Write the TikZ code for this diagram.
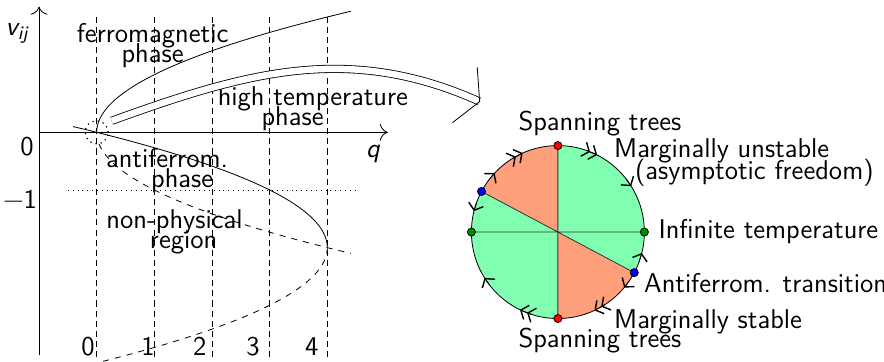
\documentclass[tikz,border=0pt]{standalone}
\usepackage{tikz}
\usetikzlibrary{arrows.meta}
\definecolor{Salmon}{RGB}{255,160,125}
\definecolor{Mint}{RGB}{128,255,176}
\definecolor{DotGreen}{RGB}{0,140,0}
\tikzset{
  every node/.style={font=\sffamily\fontsize{13.4}{9.9}\selectfont},
  lbl/.style={anchor=west, inner sep=0pt},
  tick/.style={dash pattern=on 3pt off 2pt},
  axis/.style={-{Computer Modern Rightarrow[scale=1.6]}},
  fixdot/.style={circle, draw=black, inner sep=0pt, minimum size=1.4mm},
  flow/.style={-{Straight Barb[length=3pt, width=7.5pt, line width=0.7pt]}},
  flowtwo/.style={-{Straight Barb[length=3pt, width=7.5pt, line width=0.7pt]Straight Barb[length=3pt, width=7.5pt, line width=0.7pt]}},
}

\begin{document}
\lineskiplimit=-20pt\relax
\begin{tikzpicture}
\useasboundingbox (-1.677,-3.967) rectangle (13.657,2.295);

% Phase diagram
\draw[axis] (-1,-3.87) -- (-1,2.18);
\draw[axis] (-1,0) -- (5.05,0);
\node (vij) at (-1.38,1.72) {\itshape v\textsubscript{ij}};
\node (qlab) at (4.79,-0.38) {\itshape q};
\node (zero) at (-1.21,-0.24) {0};
\node (mone) at (-1.33,-1.16) {−1};
\foreach \q/\x in {0/-0.15,1/0.89,2/1.79,3/2.71,4/3.73} {
    \draw[tick] (\q,-3.9) -- (\q,2.07);
    \node (n\q) at (\x,-3.72) {\q};
}
\draw[dotted] (-0.5,-1) -- (4.5,-1);

% Critical curves
\draw[domain=0:2.1, samples=60, variable=\t] plot ({\t*\t},\t);
\draw[domain=0:2.1, samples=60, variable=\t] plot ({4-\t*\t},{\t-2});
\draw[dashed, domain=0:1.975, samples=60, variable=\t] plot ({4-\t*\t},{-\t-2});
\draw[dashed, domain=0.2:2.1, samples=60, variable=\t] plot ({\t*\t},-\t);

\node[align=center] (ferro) at (0.97,1.51) {ferromagnetic\\phase};
\node[align=center] (hight) at (3.75,0.41) {high temperature\\phase\hspace*{20pt}};
\node[align=center] (antif) at (1.22,-0.67) {antiferrom.\\\hspace*{15pt}phase};
\node[align=center] (nonph) at (1.35,-1.73) {non-physical\\\hspace*{9pt}region};

\node[circle, draw, dotted, semithick, minimum size=4mm, inner sep=0pt] (fixpt) at (0,0) {};

% Zoom arrow
\coordinate (arrowstart) at (0.26,0.2);
\coordinate (arrowend) at (6.65,0.53);
\draw[double, double distance=3.2pt, -{Straight Barb[length=8pt,width=30pt]}] (arrowstart) .. controls (2.61,1.05) and (4.37,1.55) .. (arrowend);

% Flow on the circle
\begin{scope}[shift={(8,-1.73)}]
    \fill[Mint] (0,0) -- (152:1.5) arc (152:270:1.5) -- cycle;
    \fill[Mint] (0,0) -- (-28:1.5) arc (-28:90:1.5) -- cycle;
    \fill[Salmon] (0,0) -- (90:1.5) arc (90:152:1.5) -- cycle;
    \fill[Salmon] (0,0) -- (270:1.5) arc (270:332:1.5) -- cycle;
    \draw[black!80] (90:1.5) -- (270:1.5) (0:1.5) -- (180:1.5) (152:1.5) -- (332:1.5);
    \draw (0,0) circle (1.5);
    \foreach \a in {137,212,32,320} \draw[flow] (\a+6:1.5) -- (\a:1.5);
    \foreach \a in {166,346} \draw[flow] (\a-6:1.5) -- (\a:1.5);
    \foreach \a in {114,244,63,295} \draw[flowtwo] (\a+8:1.5) -- (\a:1.5);
    \node[fixdot, fill=red] (sttop) at (90:1.5) {};
    \node[fixdot, fill=red] (stbot) at (270:1.5) {};
    \node[fixdot, fill=DotGreen] (infr) at (0:1.5) {};
    \node[fixdot, fill=DotGreen] (infl) at (180:1.5) {};
    \node[fixdot, fill=blue] (afl) at (152:1.5) {};
    \node[fixdot, fill=blue] (afr) at (332:1.5) {};
\end{scope}

\node[lbl] (lsttop) at (7.31,0.144) {Spanning trees};
\node[lbl, align=left, font=\sffamily\fontsize{13.4}{10.8}\selectfont] (lmu) at (8.97,-0.53) {Marginally unstable\\\hspace*{10.3pt}(asymptotic freedom)};
\node[lbl] (linf) at (9.74,-1.73) {Infinite temperature};
\node[lbl] (laf) at (9.49,-2.61) {Antiferrom. transition};
\node[lbl] (lms) at (8.97,-3.29) {Marginally stable};
\node[lbl] (lstbot) at (7.31,-3.61) {Spanning trees};

\end{tikzpicture}
\end{document}
